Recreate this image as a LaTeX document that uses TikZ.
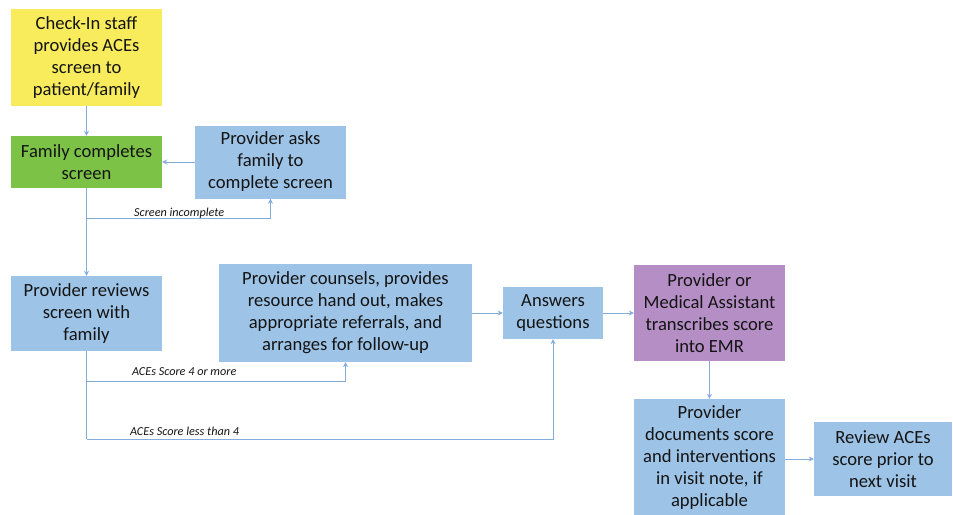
\documentclass[tikz,border=0pt]{standalone}
\usepackage{fontspec}
\setmainfont{Carlito}
\usetikzlibrary{arrows.meta}
\definecolor{cyel}{RGB}{248,236,92}
\definecolor{cgrn}{RGB}{124,194,70}
\definecolor{cblu}{RGB}{157,195,230}
\definecolor{cpur}{RGB}{180,142,196}
\definecolor{cline}{RGB}{132,172,222}
\definecolor{ctxt}{RGB}{20,20,20}
\begin{document}
\begin{tikzpicture}[x=1pt,y=-1pt,
  box/.style={draw=none,inner sep=2pt,align=center,text=ctxt,
    font=\fontsize{18.6}{22}\selectfont,anchor=center},
  conn/.style={draw=cline,line width=1pt,-{Stealth[length=5pt,width=5pt]}},
  plain/.style={draw=cline,line width=1pt},
  lbl/.style={font=\fontsize{12.2}{13}\selectfont\itshape,text=ctxt,inner sep=0pt,anchor=west}]
\useasboundingbox (0,0) rectangle (953,514);
\node[box,fill=cyel,minimum width=151pt,minimum height=97pt] (chk) at (86.5,57.5)
  {Check-In staff\\provides ACEs\\screen to\\patient/family};
\node[box,fill=cgrn,minimum width=151pt,minimum height=52pt] (fam) at (86.5,162)
  {Family completes\\screen};
\node[box,fill=cblu,minimum width=151pt,minimum height=73pt] (ask) at (270.5,162)
  {Provider asks\\family to\\complete screen};
\node[box,fill=cblu,minimum width=151pt,minimum height=75pt] (rev) at (86.5,313.5)
  {Provider reviews\\screen with\\family};
\node[box,fill=cblu,minimum width=253pt,minimum height=98pt] (cou) at (345.5,313)
  {Provider counsels, provides\\resource hand out, makes\\appropriate referrals, and\\arranges for follow-up};
\node[box,fill=cblu,minimum width=100pt,minimum height=52pt] (ans) at (553,313)
  {Answers\\questions};
\node[box,fill=cpur,minimum width=151pt,minimum height=96pt] (emr) at (709.5,313)
  {Provider or\\Medical Assistant\\transcribes score\\into EMR};
\node[box,fill=cblu,minimum width=151pt,minimum height=117pt] (doc) at (709.5,457.5)
  {Provider\\documents score\\and interventions\\in visit note, if\\applicable};
\node[box,fill=cblu,minimum width=138pt,minimum height=74pt] (nxt) at (883,459)
  {Review ACEs\\score prior to\\next visit};
\coordinate (si) at (86.5,218);
\coordinate (s4) at (86.5,381);
\coordinate (sl) at (86.5,439);
\draw[conn] (chk) -- (fam);
\draw[conn] (ask) -- (fam);
\draw[conn] (fam) -- (rev);
\draw[conn] (si) -| (ask);
\draw[plain] (rev) -- (sl);
\draw[conn] (s4) -| (cou);
\draw[conn] (sl) -| (ans);
\draw[conn] (cou) -- (ans);
\draw[conn] (ans) -- (emr);
\draw[conn] (emr) -- (doc);
\draw[conn] (doc.east |- nxt.west) -- (nxt);
\node[lbl] (lsi) at (134,213) {Screen incomplete};
\node[lbl] (ls4) at (132,372) {ACEs Score 4 or more};
\node[lbl] (lsl) at (130,431) {ACEs Score less than 4};
\end{tikzpicture}
\end{document}
